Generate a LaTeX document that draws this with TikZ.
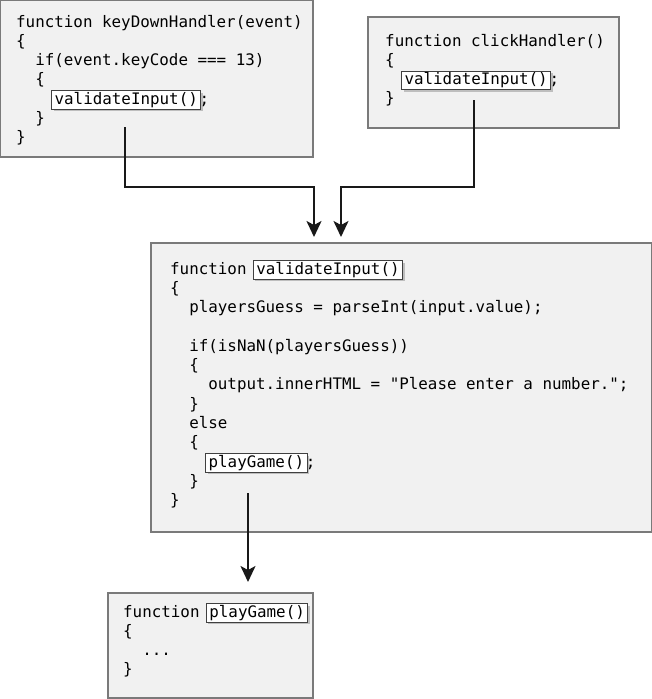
\documentclass[tikz,border=0pt]{standalone}
\usepackage{fontspec}
\newfontfamily\codefont{DejaVu Sans Mono}
\usetikzlibrary{arrows.meta,shadows}
\definecolor{boxfill}{HTML}{F1F1F1}
\definecolor{boxedge}{HTML}{7A7A7A}
\begin{document}
\begin{tikzpicture}[x=1pt,y=-1pt,
 code/.style={font=\codefont\fontsize{15.86}{19}\selectfont, inner sep=0pt, anchor=base west, text=black},
 hl/.style={code, draw=black!75, line width=0.9pt, fill=white, inner xsep=3pt, inner ysep=2pt, text height=11.5pt, text depth=3pt, drop shadow={shadow xshift=2pt, shadow yshift=-2pt, opacity=0.45}},
 panel/.style={draw=boxedge, line width=1.2pt, fill=boxfill},
 arr/.style={line width=2pt, draw=black!90, -{Stealth[width=15pt,length=16pt,inset=4pt]}}]
\useasboundingbox (0,0) rectangle (652,699);
% panels
\path[panel] (0.6,0.6) rectangle (313,157);
\path[panel] (368,17) rectangle (619,128);
\path[panel] (151,243) rectangle (651.2,532);
\path[panel] (108,593) rectangle (313,698);
% box 1
\node[code] (k0) at (16,27) {function keyDownHandler(event)};
\node[code] (k1) at (16,46.3) {\{};
\node[code] (k2) at (35.1,65.6) {if(event.keyCode === 13)};
\node[code] (k3) at (35.1,84.9) {\{};
\node[hl] (khl) at (51.2,104.2) {validateInput()};
\node[code] (k4) at (199.5,104.2) {;};
\node[code] (k5) at (35.1,123.5) {\}};
\node[code] (k6) at (16,142.8) {\}};
% box 2
\node[code] (c0) at (385,46) {function clickHandler()};
\node[code] (c1) at (385,65.3) {\{};
\node[hl] (chl) at (401.1,84.6) {validateInput()};
\node[code] (c2) at (549.4,84.6) {;};
\node[code] (c3) at (385,103.9) {\}};
% box 3
\node[code] (v0) at (170,274) {function};
\node[hl] (vhl) at (252.95,274) {validateInput()};
\node[code] (v1) at (170,293.3) {\{};
\node[code] (v2) at (189.1,312.6) {playersGuess = parseInt(input.value);};
\node[code] (v4) at (189.1,351.2) {if(isNaN(playersGuess))};
\node[code] (v5) at (189.1,370.5) {\{};
\node[code] (v6) at (208.2,389.8) {output.innerHTML = "Please enter a number.";};
\node[code] (v7) at (189.1,409.1) {\}};
\node[code] (v8) at (189.1,428.4) {else};
\node[code] (v9) at (189.1,447.7) {\{};
\node[hl] (phl) at (205.2,467) {playGame()};
\node[code] (v10) at (305.7,467) {;};
\node[code] (v11) at (189.1,486.3) {\}};
\node[code] (v12) at (170,505.6) {\}};
% box 4
\node[code] (g0) at (123,617) {function};
\node[hl] (ghl) at (205.95,617) {playGame()};
\node[code] (g1) at (123,636.3) {\{};
\node[code] (g2) at (142.1,655.6) {...};
\node[code] (g3) at (123,674.9) {\}};
% connectors
\coordinate (a1s) at (125,127);
\coordinate (a1m) at (125,187);
\coordinate (a1e) at (314,237);
\coordinate (a2s) at (474,100);
\coordinate (a2m) at (474,187);
\coordinate (a2e) at (341,237);
\coordinate (a3s) at (248,493);
\coordinate (a3e) at (248,582);
\draw[arr] (a1s) -- (a1m) -| (a1e);
\draw[arr] (a2s) -- (a2m) -| (a2e);
\draw[arr] (a3s) -- (a3e);
\end{tikzpicture}
\end{document}
